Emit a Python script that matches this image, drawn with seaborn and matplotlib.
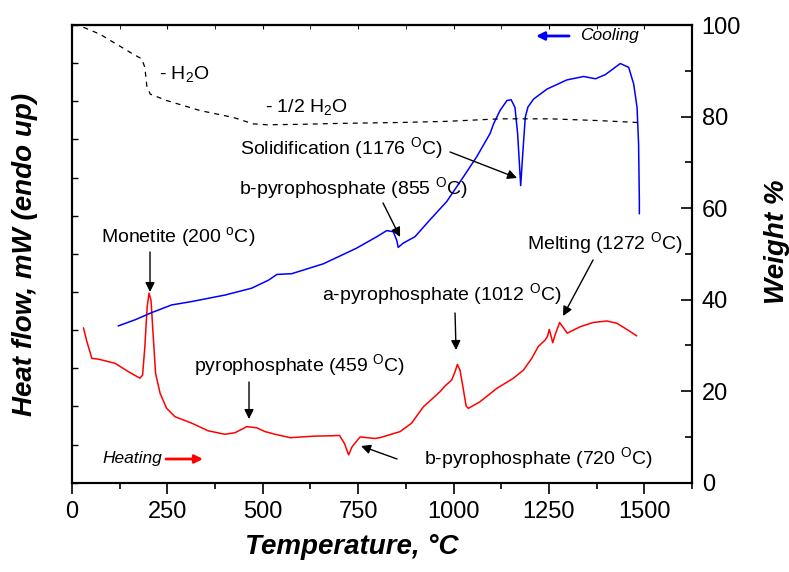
import numpy as np
import pandas as pd
import matplotlib
matplotlib.use("Agg")
import matplotlib.pyplot as plt
from matplotlib.ticker import MultipleLocator
import seaborn as sns

# heating run (red), heat flow in arbitrary units
heat_temp = [30, 39, 52, 69, 113, 148, 178, 185, 191, 197, 202, 207, 213, 219, 231, 248,
             270, 314, 357, 401, 427, 445, 458, 484, 506, 532, 572, 633, 680, 701, 714, 725,
             734, 755, 794, 807, 860, 890, 921, 943, 965, 978, 995, 1004, 1010, 1017, 1026,
             1033, 1039, 1069, 1113, 1157, 1183, 1205, 1222, 1240, 1246, 1251, 1256, 1260,
             1266, 1278, 1286, 1298, 1332, 1366, 1402, 1428, 1454, 1480]
heat_flow = [4.06, 3.70, 3.26, 3.24, 3.13, 2.91, 2.74, 2.82, 3.57, 4.61, 4.97, 4.79, 3.83,
             2.87, 2.34, 1.95, 1.73, 1.56, 1.36, 1.27, 1.31, 1.40, 1.47, 1.44, 1.34, 1.27,
             1.18, 1.22, 1.23, 1.24, 1.03, 0.73, 0.94, 1.20, 1.16, 1.18, 1.34, 1.56, 1.99,
             2.19, 2.39, 2.54, 2.69, 2.91, 3.10, 2.95, 2.43, 2.01, 1.95, 2.12, 2.47, 2.74,
             2.95, 3.26, 3.57, 3.74, 3.83, 4.02, 3.83, 3.67, 3.87, 4.20, 4.09, 3.92, 4.09,
             4.20, 4.24, 4.18, 4.02, 3.85]

# cooling run (blue)
cool_temp = [121, 165, 209, 261, 314, 401, 471, 515, 537, 576, 659, 746, 799, 825, 842,
             851, 855, 868, 899, 938, 982, 1026, 1061, 1096, 1105, 1122, 1140, 1151, 1161,
             1168, 1176, 1182, 1188, 1195, 1210, 1245, 1297, 1341, 1372, 1398, 1437, 1459,
             1472, 1481, 1485, 1487, 1487]
cool_flow = [4.11, 4.27, 4.46, 4.66, 4.75, 4.92, 5.10, 5.31, 5.46, 5.48, 5.74, 6.15, 6.45,
             6.61, 6.58, 6.36, 6.17, 6.28, 6.45, 6.89, 7.37, 8.02, 8.55, 9.16, 9.41, 9.76,
             10.02, 10.04, 9.84, 9.15, 7.79, 8.71, 9.58, 9.85, 10.06, 10.32, 10.56, 10.65,
             10.59, 10.70, 10.99, 10.89, 10.46, 9.84, 8.88, 7.40, 7.05]

# TGA weight loss (dashed, right axis)
tga_temp = [30, 73, 161, 183, 191, 196, 205, 248, 336, 423, 475, 511, 600, 700, 860, 982,
            1122, 1253, 1385, 1481]
tga_weight = [99.5, 98.0, 93.6, 92.6, 90.7, 86.7, 84.9, 83.5, 81.3, 79.8, 78.4, 78.2, 78.3,
              78.5, 78.7, 78.95, 79.5, 79.5, 79.1, 78.7]

x_ticks = [0, 250, 500, 750, 1000, 1250, 1500]
w_ticks = [0, 20, 40, 60, 80, 100]

heat = pd.DataFrame({"T": heat_temp, "hf": heat_flow})
cool = pd.DataFrame({"T": cool_temp, "hf": cool_flow})
tga = pd.DataFrame({"T": tga_temp, "w": tga_weight})

sns.set_style("ticks")
plt.rcParams["font.family"] = ["Liberation Sans", "DejaVu Sans"]
plt.rcParams["mathtext.fontset"] = "custom"
plt.rcParams["mathtext.rm"] = "Liberation Sans"
plt.rcParams["mathtext.it"] = "Liberation Sans:italic"
plt.rcParams["mathtext.bf"] = "Liberation Sans:bold"
for key in ["text.color", "axes.labelcolor", "xtick.color", "ytick.color", "axes.edgecolor"]:
    plt.rcParams[key] = "black"

fig = plt.figure(figsize=(7.89, 5.72), dpi=100)
ax = fig.add_axes([72 / 789, 1 - 482.7 / 572, 620 / 789, 457.7 / 572])
ax2 = ax.twinx()

sns.lineplot(data=heat, x="T", y="hf", ax=ax, color="#ff0000", lw=1.1, sort=False,
             estimator=None)
sns.lineplot(data=cool, x="T", y="hf", ax=ax, color="#0000ff", lw=1.1, sort=False,
             estimator=None)
sns.lineplot(data=tga, x="T", y="w", ax=ax2, color="black", lw=0.9, sort=False,
             estimator=None, linestyle=(0, (4, 4)))

ax.set_xlim(0, 1625)
ax.set_ylim(0, 12)
ax2.set_ylim(0, 100)
ax.set_xlabel("")
ax.set_ylabel("")
ax2.set_ylabel("")

ax.set_xticks(x_ticks)
ax.xaxis.set_minor_locator(MultipleLocator(125))
ax.tick_params(axis="x", which="major", direction="out", length=8, width=1.2,
               labelsize=17, pad=5)
ax.tick_params(axis="x", which="minor", direction="out", length=4, width=1.2)
ax.yaxis.set_major_locator(MultipleLocator(1))
ax.tick_params(axis="y", which="major", direction="in", length=4, width=1, labelleft=False)

ax2.set_yticks(w_ticks)
ax2.yaxis.set_minor_locator(MultipleLocator(10))
ax2.tick_params(axis="y", which="major", direction="in", length=8, width=1.2,
                labelsize=17, pad=7)
ax2.tick_params(axis="y", which="minor", direction="in", length=5, width=1.2)

top = ax.secondary_xaxis("top")
top.set_xticks(x_ticks)
top.xaxis.set_minor_locator(MultipleLocator(125))
top.tick_params(axis="x", which="both", direction="in", length=3, labeltop=False)

for a in (ax, ax2):
    for s in a.spines.values():
        s.set_linewidth(1.5)
        s.set_visible(True)
for s in top.spines.values():
    s.set_linewidth(1.5)

# axis titles
fig.text(25 / 789, 1 - 254 / 572, "Heat flow, mW (endo up)", rotation=90, ha="center",
         va="center", fontsize=20, fontweight="bold", fontstyle="italic")
fig.text(777 / 789, 1 - 242 / 572, "Weight %", rotation=90, ha="center", va="center",
         fontsize=20, fontweight="bold", fontstyle="italic")
fig.text(352 / 789, 1 - 547 / 572, "Temperature, \u00b0C", ha="center", va="center",
         fontsize=20, fontweight="bold", fontstyle="italic")


def px(x, y):
    # pixel position on the picture -> left-axis data coords
    return ((x - 72) / 0.3815, (482.7 - y) / 38.14)


def label(text, x, y, **kw):
    ax.text(*px(x, y), text, ha="center", va="center", fontsize=14, **kw)


def arrow(x0, y0, x1, y1, color="black", lw=1.0, ms=14):
    ax.annotate("", xy=px(x1, y1), xytext=px(x0, y0),
                arrowprops=dict(arrowstyle="-|>", color=color, lw=lw, mutation_scale=ms,
                                shrinkA=0, shrinkB=0))


label(r"Monetite (200 $^{\rm o}$C)", 178, 237)
arrow(150, 252, 150, 292)
label(r"pyrophosphate (459 $^{\rm O}$C)", 300, 365)
arrow(249, 382, 249, 419)
label(r"b-pyrophosphate (720 $^{\rm O}$C)", 538, 458)
arrow(397, 459, 361, 446)
label(r"a-pyrophosphate (1012 $^{\rm O}$C)", 442, 294)
arrow(455, 313, 456, 350)
label(r"Melting (1272 $^{\rm O}$C)", 605, 243)
arrow(593, 260, 563, 316)
label(r"Solidification (1176 $^{\rm O}$C)", 341, 148)
arrow(450, 152, 517, 178)
label(r"b-pyrophosphate (855 $^{\rm O}$C)", 353, 188)
arrow(383, 203, 400, 237)
label(r"- H$_2$O", 184, 74)
label(r"- 1/2 H$_2$O", 306, 107)

ax.text(*px(580, 36), "Cooling", ha="left", va="center", fontsize=12.5, fontstyle="italic")
arrow(569, 36, 536, 36, color="#0000ff", lw=2, ms=12)
ax.text(*px(162, 459), "Heating", ha="right", va="center", fontsize=12.5,
        fontstyle="italic")
arrow(166, 459, 203, 459, color="#ff0000", lw=2, ms=12)

fig.savefig("out.png", dpi=100)
